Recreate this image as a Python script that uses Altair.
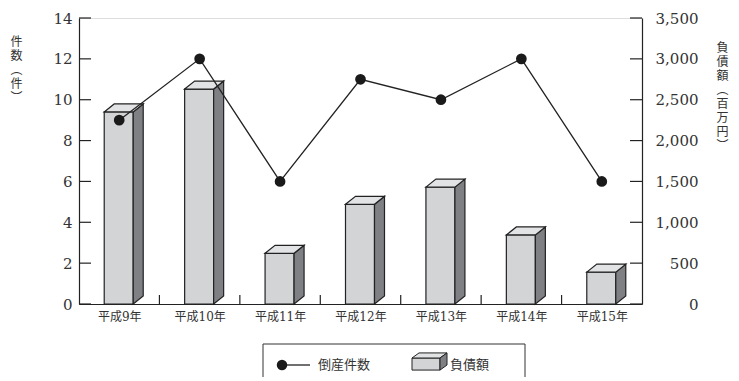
import altair as alt
import pandas as pd

# ---- data ----
years = ["平成9年", "平成10年", "平成11年", "平成12年", "平成13年", "平成14年", "平成15年"]
counts = [9, 12, 6, 11, 10, 12, 6]                       # 倒産件数 (件)
debts = [2350, 2630, 620, 1220, 1430, 845, 390]          # 負債額 (百万円)
left_ticks = [0, 2, 4, 6, 8, 10, 12, 14]
right_ticks = [0, 500, 1000, 1500, 2000, 2500, 3000, 3500]
left_title = ["件", "数", "︵", "件", "︶"]
right_title = ["負", "債", "額", "︵", "百", "万", "円", "︶"]
legend_labels = ["倒産件数", "負債額"]

# ---- layout constants ----
W, H = 563, 286
N = len(years)
XDOM = [-0.5, N - 0.5]
ux = (XDOM[1] - XDOM[0]) / W          # x data units per pixel
uy = right_ticks[-1] / H               # right-scale units per pixel
FL, FR, DX, DY = -15 * ux, 14 * ux, 10 * ux, 8 * uy

SERIF = "DejaVu Serif, Noto Sans CJK JP"
CJK = "Noto Sans CJK JP"
INK = "#222222"

df = pd.DataFrame({"i": list(range(N)), "year": years, "count": counts, "debt": debts})
df["xl"] = df["i"] + FL
df["xr"] = df["i"] + FR

side_rows, top_rows = [], []
for i, v in zip(range(N), debts):
    side_rows += [
        {"i": i, "xs": i + FR, "y": v, "y2": 0},
        {"i": i, "xs": i + FR + DX, "y": v + DY, "y2": DY},
    ]
    top_rows += [
        {"i": i, "xs": i + FL, "y": v, "y2": v},
        {"i": i, "xs": i + FL + DX, "y": v + DY, "y2": v},
        {"i": i, "xs": i + FR, "y": v + DY, "y2": v},
        {"i": i, "xs": i + FR + DX, "y": v + DY, "y2": v + DY},
    ]
side_df = pd.DataFrame(side_rows)
top_df = pd.DataFrame(top_rows)

label_expr = "[" + ",".join("'%s'" % y for y in years) + "][datum.value]"
xscale = alt.Scale(domain=XDOM, nice=False, zero=False)
xaxis = alt.Axis(values=list(range(N)), labelExpr=label_expr, ticks=False, tickSize=0,
                 grid=False, title=None, domainColor=INK, domainWidth=1.2,
                 labelFont=SERIF, labelFontSize=12, labelColor="#333", labelPadding=7)

rscale = alt.Scale(domain=[0, right_ticks[-1]], nice=False, zero=True)
raxis = alt.Axis(orient="right", values=right_ticks, format=",d", ticks=False, tickSize=0,
                 grid=False, domainColor=INK, domainWidth=1.2,
                 labelFont=SERIF, labelFontSize=15, labelColor="#333",
                 labelAlign="right", labelBaseline="middle", labelPadding=56,
                 title=right_title, titleAngle=0, titleX=80, titleY=24,
                 titleAlign="center", titleBaseline="top", titleFont=CJK,
                 titleFontSize=12, titleFontWeight="normal", titleColor="#333",
                 titleLineHeight=14)

lscale = alt.Scale(domain=[0, left_ticks[-1]], nice=False, zero=True)
laxis = alt.Axis(orient="left", values=left_ticks, format="d", ticks=False, tickSize=0,
                 grid=False, domainColor=INK, domainWidth=1.2,
                 labelFont=SERIF, labelFontSize=15, labelColor="#333",
                 labelAlign="right", labelBaseline="middle", labelPadding=7,
                 title=left_title, titleAngle=0, titleX=-63, titleY=18,
                 titleAlign="center", titleBaseline="top", titleFont=CJK,
                 titleFontSize=12, titleFontWeight="normal", titleColor="#333",
                 titleLineHeight=14)


def X(field):
    return alt.X(field, type="quantitative", scale=xscale, axis=xaxis)


def YR(field):
    return alt.Y(field, type="quantitative", scale=rscale, axis=raxis)


def YL(field):
    return alt.Y(field, type="quantitative", scale=lscale, axis=laxis)


front = alt.Chart(df).mark_rect(fill="#d3d4d6", stroke=INK, strokeWidth=1.2).encode(
    x=X("xl"), x2="xr", y=YR("debt"), y2=alt.datum(0)
)
side = alt.Chart(side_df).mark_area(fill="#7f8084", stroke=INK, strokeWidth=1.2,
                                    opacity=1).encode(
    x=X("xs"), y=YR("y"), y2="y2", detail="i:N"
)
top = alt.Chart(top_df).mark_area(fill="#e2e3e4", stroke=INK, strokeWidth=1.2,
                                  opacity=1).encode(
    x=X("xs"), y=YR("y"), y2="y2", detail="i:N"
)
xt_df = pd.DataFrame({"b": [i + 0.5 for i in range(N - 1)]})
xticks = alt.Chart(xt_df).mark_rule(color=INK, strokeWidth=1.2).encode(
    x=X("b"), y=alt.value(H - 9), y2=alt.value(H)
)
rt_df = pd.DataFrame({"t": right_ticks})
rticks = alt.Chart(rt_df).mark_rule(color=INK, strokeWidth=1.2).encode(
    y=YR("t"), x=alt.value(W - 12), x2=alt.value(W)
)
right_group = alt.layer(front, side, top, xticks, rticks)

line = alt.Chart(df).mark_line(color=INK, strokeWidth=1.3).encode(x=X("i"), y=YL("count"))
pts = alt.Chart(df).mark_circle(color="#1a1a1a", size=115, opacity=1).encode(
    x=X("i"), y=YL("count")
)
lt_df = pd.DataFrame({"t": left_ticks})
lticks = alt.Chart(lt_df).mark_rule(color=INK, strokeWidth=1.2).encode(
    y=YL("t"), x=alt.value(0), x2=alt.value(12)
)

# ---- hand-drawn legend box below the plot (pixel positions relative to plot origin) ----
one = alt.Data(values=[{}])
LX0, LX1, LY0, LY1 = 184, 446, 326, 372
leg_top = alt.Chart(one).mark_rule(color="#333", strokeWidth=1).encode(
    x=alt.value(LX0), x2=alt.value(LX1), y=alt.value(LY0))
leg_left = alt.Chart(one).mark_rule(color="#333", strokeWidth=1).encode(
    x=alt.value(LX0), y=alt.value(LY0), y2=alt.value(LY1))
leg_right = alt.Chart(one).mark_rule(color="#333", strokeWidth=1).encode(
    x=alt.value(LX1), y=alt.value(LY0), y2=alt.value(LY1))
leg_line = alt.Chart(one).mark_rule(color=INK, strokeWidth=1.3).encode(
    x=alt.value(203), x2=alt.value(231), y=alt.value(347))
leg_dot = alt.Chart(one).mark_circle(color="#1a1a1a", size=110, opacity=1).encode(
    x=alt.value(203), y=alt.value(347))
leg_t1 = alt.Chart(one).mark_text(text=legend_labels[0], font=CJK, fontSize=13,
                                  align="left", baseline="middle", color="#333").encode(
    x=alt.value(239), y=alt.value(347))
BOX_FRONT = "M-1,-0.2L0.6,-0.2L0.6,0.49L-1,0.49Z"
BOX_TOP = "M-1,-0.2L-0.6,-0.49L1,-0.49L0.6,-0.2Z"
BOX_SIDE = "M0.6,-0.2L1,-0.49L1,0.2L0.6,0.49Z"
box_parts = []
for path, fill in [(BOX_FRONT, "#d3d4d6"), (BOX_TOP, "#e2e3e4"), (BOX_SIDE, "#7f8084")]:
    box_parts.append(
        alt.Chart(one).mark_point(shape=path, size=1225, filled=True, fill=fill,
                                  stroke=INK, strokeWidth=1, opacity=1).encode(
            x=alt.value(350.5), y=alt.value(343.5))
    )
leg_t2 = alt.Chart(one).mark_text(text=legend_labels[1], font=CJK, fontSize=13,
                                  align="left", baseline="middle", color="#333").encode(
    x=alt.value(371), y=alt.value(347))

left_group = alt.layer(line, pts, lticks, leg_top, leg_left, leg_right, leg_line,
                       leg_dot, leg_t1, *box_parts, leg_t2)

chart = alt.layer(right_group, left_group).resolve_scale(y="independent").properties(
    width=W, height=H,
    autosize=alt.AutoSizeParams(type="none"),
    padding={"left": 71, "top": 10, "right": 89, "bottom": 73},
).configure_view(strokeWidth=0).configure(background="white")

chart.save("out.html", embed_options={"renderer": "svg", "actions": False})
